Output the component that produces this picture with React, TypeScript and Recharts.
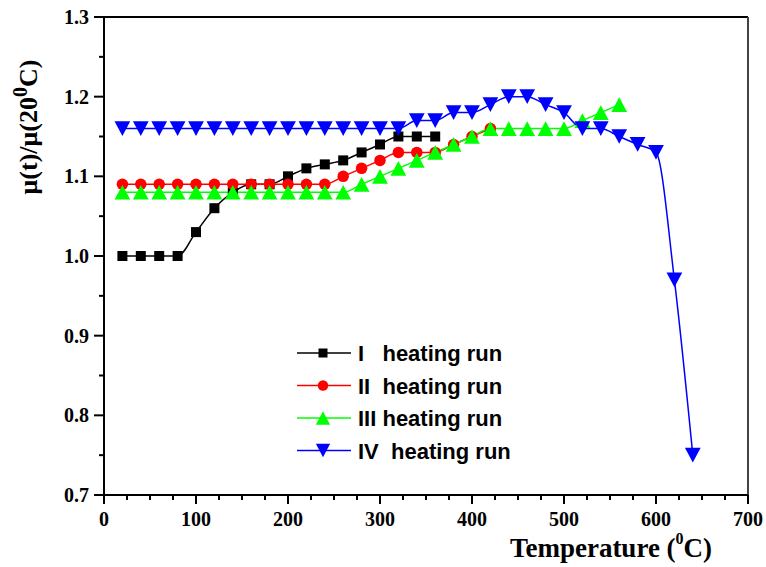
import React from 'react';
import { LineChart, Line, XAxis, YAxis, ReferenceLine, Legend, Label } from 'recharts';

const tempI = [20, 40, 60, 80, 100, 120, 140, 160, 180, 200, 220, 240, 260, 280, 300, 320, 340, 360];
const muI = [1.0, 1.0, 1.0, 1.0, 1.03, 1.06, 1.08, 1.09, 1.09, 1.1, 1.11, 1.115, 1.12, 1.13, 1.14, 1.15, 1.15, 1.15];

const tempII = [20, 40, 60, 80, 100, 120, 140, 160, 180, 200, 220, 240, 260, 280, 300, 320, 340, 360, 380, 400, 420];
const muII = [1.09, 1.09, 1.09, 1.09, 1.09, 1.09, 1.09, 1.09, 1.09, 1.09, 1.09, 1.09, 1.1, 1.11, 1.12, 1.13, 1.13, 1.13, 1.14, 1.15, 1.16];

const tempIII = [20, 40, 60, 80, 100, 120, 140, 160, 180, 200, 220, 240, 260, 280, 300, 320, 340, 360, 380, 400, 420, 440, 460, 480, 500, 520, 540, 560];
const muIII = [1.08, 1.08, 1.08, 1.08, 1.08, 1.08, 1.08, 1.08, 1.08, 1.08, 1.08, 1.08, 1.08, 1.09, 1.1, 1.11, 1.12, 1.13, 1.14, 1.15, 1.16, 1.16, 1.16, 1.16, 1.16, 1.17, 1.18, 1.19];

const tempIV = [20, 40, 60, 80, 100, 120, 140, 160, 180, 200, 220, 240, 260, 280, 300, 320, 340, 360, 380, 400, 420, 440, 460, 480, 500, 520, 540, 560, 580, 600, 620, 640];
const muIV = [1.16, 1.16, 1.16, 1.16, 1.16, 1.16, 1.16, 1.16, 1.16, 1.16, 1.16, 1.16, 1.16, 1.16, 1.16, 1.16, 1.17, 1.17, 1.18, 1.18, 1.19, 1.2, 1.2, 1.19, 1.18, 1.16, 1.16, 1.15, 1.14, 1.13, 0.97, 0.75];

const xTicks = [0, 25, 50, 75, 100, 125, 150, 175, 200, 225, 250, 275, 300, 325, 350, 375, 400, 425, 450, 475, 500, 525, 550, 575, 600, 625, 650, 675, 700];
const yTicks = [0.7, 0.75, 0.8, 0.85, 0.9, 0.95, 1.0, 1.05, 1.1, 1.15, 1.2, 1.25, 1.3];

const toRows = (t: number[], v: number[]) => t.map((x, i) => ({ t: x, v: v[i] }));

const series = [
  { name: 'I   heating run', color: '#000000', shape: 'square', data: toRows(tempI, muI) },
  { name: 'II  heating run', color: '#FF0000', shape: 'circle', data: toRows(tempII, muII) },
  { name: 'III heating run', color: '#00FF00', shape: 'up', data: toRows(tempIII, muIII) },
  { name: 'IV  heating run', color: '#0000FF', shape: 'down', data: toRows(tempIV, muIV) },
];

const serif = '"Liberation Serif", "Times New Roman", serif';
const sans = '"Liberation Sans", Arial, sans-serif';

function Marker({ shape, cx, cy, color, s }: any) {
  if (shape === 'square') return <rect x={cx - s / 2} y={cy - s / 2} width={s} height={s} fill={color} />;
  if (shape === 'circle') return <circle cx={cx} cy={cy} r={s / 2 + 0.5} fill={color} />;
  const w = s * 1.5;
  const h = s * 1.4;
  if (shape === 'up')
    return <polygon points={`${cx - w / 2},${cy + h / 2} ${cx + w / 2},${cy + h / 2} ${cx},${cy - h / 2}`} fill={color} />;
  return <polygon points={`${cx - w / 2},${cy - h / 2} ${cx + w / 2},${cy - h / 2} ${cx},${cy + h / 2}`} fill={color} />;
}

const XTick = ({ x, y, payload }: any) => {
  const major = payload.value % 100 === 0;
  return (
    <g>
      <line x1={x} x2={x} y1={y} y2={y + (major ? 9 : 5)} stroke="#000" strokeWidth={2} />
      {major && (
        <text x={x} y={y + 31} textAnchor="middle" fontFamily={serif} fontWeight="bold" fontSize={20} fill="#000">
          {payload.value}
        </text>
      )}
    </g>
  );
};

const YTick = ({ x, y, payload }: any) => {
  const major = Math.abs(Math.round(payload.value * 10) - payload.value * 10) < 1e-6;
  return (
    <g>
      <line x1={x} x2={x - (major ? 10 : 5)} y1={y} y2={y} stroke="#000" strokeWidth={2} />
      {major && (
        <text x={x - 15} y={y + 7} textAnchor="end" fontFamily={serif} fontWeight="bold" fontSize={20} fill="#000">
          {payload.value.toFixed(1)}
        </text>
      )}
    </g>
  );
};

const LegendBox = () => (
  <svg width={250} height={135}>
    {series.map((s, i) => {
      const cy = 18 + i * 32.5;
      return (
        <g key={s.name}>
          <line x1={7} x2={61} y1={cy} y2={cy} stroke={s.color} strokeWidth={1.5} />
          <Marker shape={s.shape} cx={33} cy={cy} color={s.color} s={s.shape === 'square' ? 9 : 9.5} />
          <text x={68} y={cy + 8} fontFamily={sans} fontWeight="bold" fontSize={22} fill="#000" style={{ whiteSpace: 'pre' }}>
            {s.name}
          </text>
        </g>
      );
    })}
  </svg>
);

export default function App() {
  return (
    <div style={{ position: 'absolute', left: 0, top: 0, background: '#fff' }}>
      <LineChart width={766} height={567} margin={{ top: 17, right: 18, bottom: 0, left: 0 }}>
        <XAxis
          type="number"
          dataKey="t"
          domain={[0, 700]}
          ticks={xTicks}
          interval={0}
          height={72}
          tickSize={0}
          tickMargin={0}
          tickLine={false}
          axisLine={{ stroke: '#000', strokeWidth: 2 }}
          tick={<XTick />}
          allowDuplicatedCategory={false}
        >
          <Label
            content={() => (
              <text x={611} y={557} textAnchor="middle" fontFamily={serif} fontWeight="bold" fontSize={27} fill="#000">
                <tspan>Temperature (</tspan>
                <tspan fontSize={16} dy={-13}>0</tspan>
                <tspan dy={13}>C)</tspan>
              </text>
            )}
          />
        </XAxis>
        <YAxis
          type="number"
          domain={[0.7, 1.3]}
          ticks={yTicks}
          interval={0}
          width={104}
          tickSize={0}
          tickMargin={0}
          tickLine={false}
          axisLine={{ stroke: '#000', strokeWidth: 2 }}
          tick={<YTick />}
        >
          <Label
            content={() => (
              <text
                x={37}
                y={127}
                transform="rotate(-90 37 127)"
                textAnchor="middle"
                fontFamily={serif}
                fontWeight="bold"
                fontSize={26}
                fill="#000"
              >
                <tspan>μ(t)/μ(20</tspan>
                <tspan fontSize={20} dy={-10}>0</tspan>
                <tspan dy={10}>C)</tspan>
              </text>
            )}
          />
        </YAxis>
        <ReferenceLine y={1.3} stroke="#000" strokeWidth={2} />
        <ReferenceLine x={700} stroke="#444" strokeWidth={2} />
        <Legend
          layout="vertical"
          align="center"
          verticalAlign="middle"
          wrapperStyle={{ position: 'absolute', left: 290, top: 335, width: 250, height: 135 }}
          content={<LegendBox />}
        />
        {series.map((s) => (
          <Line
            key={s.name}
            data={s.data}
            dataKey="v"
            name={s.name}
            type="monotone"
            stroke={s.color}
            strokeWidth={1.5}
            isAnimationActive={false}
            dot={(p: any) => (
              <Marker
                key={`${s.name}-${p.index}`}
                shape={s.shape}
                cx={p.cx}
                cy={p.cy}
                color={s.color}
                s={s.shape === 'square' ? 10 : 10.5}
              />
            )}
            activeDot={false}
          />
        ))}
      </LineChart>
    </div>
  );
}
